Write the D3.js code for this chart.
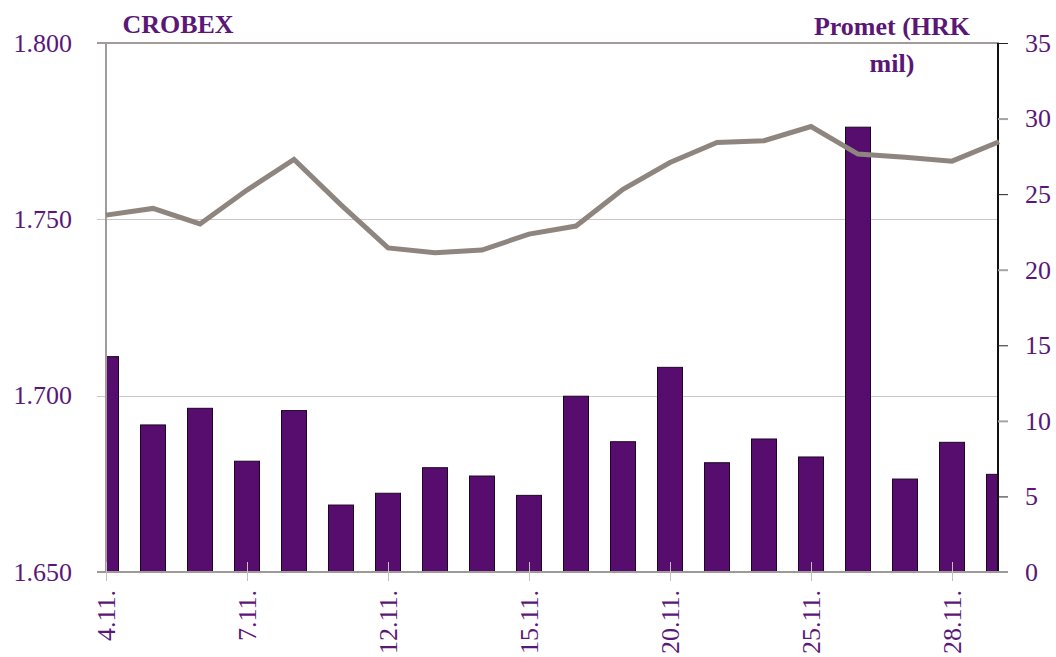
<!DOCTYPE html>
<html>
<head>
<meta charset="utf-8">
<script src="https://cdn.jsdelivr.net/npm/d3@7"></script>
<style>
  body { margin: 0; background: #fff; }
  text { font-family: 'Liberation Serif', 'DejaVu Serif', serif; }
</style>
</head>
<body>
<div id="chart"></div>
<script>
const days = ['4.11.', '5.11.', '6.11.', '7.11.', '8.11.', '11.11.', '12.11.', '13.11.', '14.11.', '15.11.',
  '18.11.', '19.11.', '20.11.', '21.11.', '22.11.', '25.11.', '26.11.', '27.11.', '28.11.', '29.11.'];
const crobex = [1.7512, 1.7531, 1.7487, 1.7583, 1.7670, 1.7541, 1.7419, 1.7405, 1.7413, 1.7458,
  1.7481, 1.7585, 1.7661, 1.7718, 1.7723, 1.7763, 1.7685, 1.7676, 1.7665, 1.7720];
const promet = [14.25, 9.73, 10.83, 7.33, 10.68, 4.43, 5.21, 6.90, 6.35, 5.07,
  11.63, 8.62, 13.54, 7.23, 8.80, 7.61, 29.43, 6.15, 8.58, 6.46];
const leftTicks = [1.65, 1.70, 1.75, 1.80];
const rightTicks = [0, 5, 10, 15, 20, 25, 30, 35];
const labelDays = ['4.11.', '7.11.', '12.11.', '15.11.', '20.11.', '25.11.', '28.11.'];

const purple = '#5a1777';
const config = {
  width: 1056, height: 657,
  left: 106, right: 999, top: 43, bottom: 572,
  barWidth: 25,
};

const svg = d3.select('#chart').append('svg')
  .attr('width', config.width)
  .attr('height', config.height);

const xScale = d3.scalePoint()
  .domain(days)
  .range([config.left, config.right]);

const yLeft = d3.scaleLinear()
  .domain([1.65, 1.80])
  .range([config.bottom, config.top]);

const yRight = d3.scaleLinear()
  .domain([0, 35])
  .range([config.bottom, config.top]);

svg.append('clipPath')
  .attr('id', 'plot-clip')
  .append('rect')
  .attr('x', config.left)
  .attr('y', 0)
  .attr('width', config.right - config.left)
  .attr('height', config.height);

// gridlines + left ticks
svg.append('g').selectAll('line')
  .data(leftTicks.slice(1, 3))
  .join('line')
  .attr('x1', config.left - 9)
  .attr('x2', config.right)
  .attr('y1', (d) => Math.round(yLeft(d)) + 0.5)
  .attr('y2', (d) => Math.round(yLeft(d)) + 0.5)
  .attr('stroke', '#c9c6c6')
  .attr('stroke-width', 1);

// bars
svg.append('g')
  .attr('clip-path', 'url(#plot-clip)')
  .selectAll('rect')
  .data(promet)
  .join('rect')
  .attr('x', (d, i) => xScale(days[i]) - config.barWidth / 2)
  .attr('y', (d) => yRight(d))
  .attr('width', config.barWidth)
  .attr('height', (d) => yRight(0) - yRight(d))
  .attr('fill', '#560d6d')
  .attr('stroke', '#1e0526')
  .attr('stroke-width', 1);

// top frame
svg.append('line')
  .attr('x1', config.left - 9)
  .attr('x2', config.right)
  .attr('y1', config.top)
  .attr('y2', config.top)
  .attr('stroke', '#a19c99')
  .attr('stroke-width', 2);

// left axis line
svg.append('line')
  .attr('x1', config.left)
  .attr('x2', config.left)
  .attr('y1', config.top)
  .attr('y2', config.bottom)
  .attr('stroke', '#a19c99')
  .attr('stroke-width', 2);

// right axis
const rightAxis = d3.axisRight(yRight)
  .tickValues(rightTicks)
  .tickSize(10)
  .tickPadding(17)
  .tickFormat(d3.format('d'));

const rightG = svg.append('g')
  .attr('transform', `translate(${config.right - 1},0)`)
  .call(rightAxis);
rightG.select('.domain')
  .attr('stroke', '#111')
  .attr('stroke-width', 2)
  .attr('d', `M0,${config.top}V${config.bottom}`);
rightG.selectAll('.tick line')
  .attr('stroke', (d) => (d % 10 === 0 && d !== 0 ? '#a7a3a0' : '#222'))
  .attr('stroke-width', (d) => (d % 10 === 0 && d !== 0 ? 2 : 1));
rightG.selectAll('.tick text')
  .attr('fill', purple)
  .attr('font-size', '26px')
  .attr('font-family', 'Liberation Serif, serif');

// left axis labels
const leftAxis = d3.axisLeft(yLeft)
  .tickValues(leftTicks)
  .tickSize(0)
  .tickPadding(34)
  .tickFormat(d3.format('.3f'));

const leftG = svg.append('g')
  .attr('transform', `translate(${config.left},0)`)
  .call(leftAxis);
leftG.select('.domain').remove();
leftG.selectAll('.tick text')
  .attr('fill', purple)
  .attr('font-size', '26px')
  .attr('font-family', 'Liberation Serif, serif');

// bottom axis line
svg.append('line')
  .attr('x1', config.left - 9)
  .attr('x2', config.right + 9)
  .attr('y1', config.bottom)
  .attr('y2', config.bottom)
  .attr('stroke', '#9d9a98')
  .attr('stroke-width', 2);

// category ticks
svg.append('g').selectAll('line')
  .data(labelDays)
  .join('line')
  .attr('x1', (d) => Math.round(xScale(d)) + 0.5)
  .attr('x2', (d) => Math.round(xScale(d)) + 0.5)
  .attr('y1', config.bottom - 10)
  .attr('y2', config.bottom + 9)
  .attr('stroke', '#c4c0c0')
  .attr('stroke-width', 1);

// CROBEX line
const line = d3.line()
  .x((d, i) => xScale(days[i]))
  .y((d) => yLeft(d));

svg.append('path')
  .datum(crobex)
  .attr('d', line)
  .attr('fill', 'none')
  .attr('stroke', '#8e857f')
  .attr('stroke-width', 5)
  .attr('stroke-linejoin', 'miter');

// x labels
svg.append('g').selectAll('text')
  .data(labelDays)
  .join('text')
  .attr('transform', (d) => `translate(${xScale(d) + 9},590) rotate(-90)`)
  .attr('text-anchor', 'end')
  .attr('fill', purple)
  .attr('font-size', '26px')
  .text((d) => d);

// titles
svg.append('text')
  .attr('x', 178)
  .attr('y', 33)
  .attr('text-anchor', 'middle')
  .attr('fill', purple)
  .attr('font-size', '26px')
  .attr('font-weight', 'bold')
  .text('CROBEX');

svg.append('text')
  .attr('x', 892)
  .attr('y', 35)
  .attr('text-anchor', 'middle')
  .attr('fill', purple)
  .attr('font-size', '26px')
  .attr('font-weight', 'bold')
  .text('Promet (HRK');

svg.append('text')
  .attr('x', 892)
  .attr('y', 72)
  .attr('text-anchor', 'middle')
  .attr('fill', purple)
  .attr('font-size', '26px')
  .attr('font-weight', 'bold')
  .text('mil)');
</script>
</body>
</html>
